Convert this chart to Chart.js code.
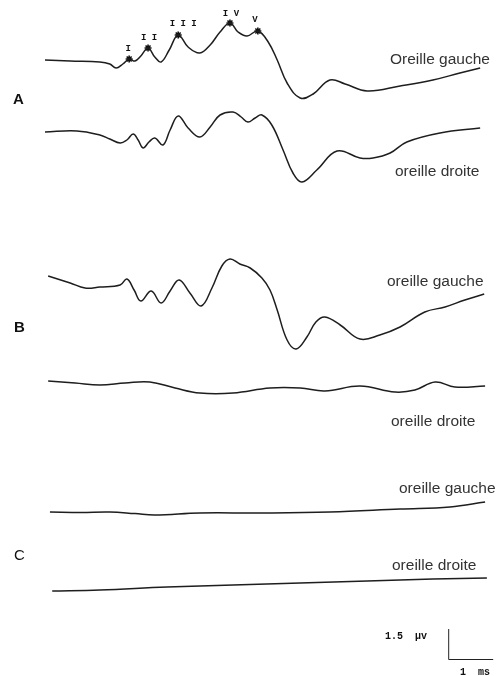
<!DOCTYPE html>
<html>
<head>
<meta charset="utf-8">
<script src="https://cdn.jsdelivr.net/npm/chart.js@4/dist/chart.umd.min.js"></script>
<style>
  html, body { margin: 0; background: #fff; }
  #wrap { position: relative; width: 502px; height: 676px; }
</style>
</head>
<body>
<div id="wrap"><canvas id="abr"></canvas></div>
<script>
// latency (ms) and amplitude (µV, relative to the trace start)
const timeA_left = [0, 0.56, 1.22, 1.44, 1.58, 1.73, 1.87, 2.0, 2.13, 2.29, 2.44, 2.58, 2.76, 2.96, 3.18, 3.44, 3.67, 3.89, 4.11, 4.29, 4.49, 4.73, 4.96, 5.16, 5.38, 5.67, 5.96, 6.33, 6.67, 7.16, 7.89, 8.62, 9.22, 9.67];
const ampA_left  = [0, -0.05, -0.1, -0.2, -0.4, -0.2, 0.05, -0.05, 0.2, 0.6, 0.15, -0.1, 0.5, 1.25, 0.65, 0.35, 0.75, 1.4, 1.85, 1.4, 1.2, 1.45, 0.9, 0, -1.15, -1.9, -1.7, -1.0, -1.2, -1.55, -1.3, -1.0, -0.65, -0.4];

const timeA_right = [0, 0.71, 1.22, 1.44, 1.67, 1.82, 1.96, 2.07, 2.18, 2.31, 2.44, 2.62, 2.78, 2.96, 3.18, 3.44, 3.67, 3.89, 4.18, 4.36, 4.51, 4.67, 4.82, 5.04, 5.29, 5.51, 5.71, 6.04, 6.49, 7.0, 7.29, 7.67, 8.04, 8.78, 9.67];
const ampA_right  = [0, 0.05, -0.15, -0.35, -0.55, -0.4, -0.1, -0.4, -0.8, -0.5, -0.3, -0.65, 0.1, 0.8, 0.2, -0.25, 0.25, 0.85, 1.0, 0.75, 0.5, 0.7, 0.85, 0.35, -0.9, -2.05, -2.5, -1.9, -0.95, -1.3, -1.3, -1.05, -0.5, -0.05, 0.2];

const timeB_left = [0.07, 0.56, 0.89, 1.22, 1.67, 1.82, 1.98, 2.13, 2.36, 2.58, 2.78, 2.98, 3.22, 3.47, 3.71, 3.93, 4.11, 4.33, 4.56, 4.82, 5.0, 5.16, 5.38, 5.58, 5.82, 6.02, 6.22, 6.56, 7.0, 7.44, 7.89, 8.44, 8.89, 9.33, 9.76];
const ampB_left  = [0.05, -0.3, -0.55, -0.5, -0.4, -0.1, -0.65, -1.2, -0.7, -1.3, -0.7, -0.15, -0.8, -1.45, -0.55, 0.55, 0.9, 0.65, 0.45, -0.05, -0.65, -1.65, -3.15, -3.6, -3.0, -2.25, -2.0, -2.4, -3.1, -2.9, -2.5, -1.75, -1.5, -1.15, -0.85];

const timeB_right = [0.07, 0.67, 1.22, 1.78, 2.33, 2.89, 3.44, 4.18, 5.0, 5.67, 6.22, 7.0, 7.78, 8.22, 8.67, 9.11, 9.78];
const ampB_right  = [0, -0.1, -0.2, -0.1, -0.05, -0.35, -0.6, -0.6, -0.35, -0.35, -0.5, -0.25, -0.55, -0.45, -0.05, -0.3, -0.25];

const timeC_left = [0.11, 0.8, 1.44, 2.0, 2.44, 3.44, 4.78, 6.33, 7.89, 9.0, 9.78];
const ampC_left  = [0, -0.02, 0, -0.08, -0.15, -0.05, -0.05, 0, 0.15, 0.25, 0.5];

const timeC_right = [0.16, 1.22, 2.71, 4.18, 5.67, 7.16, 8.62, 9.82];
const ampC_right  = [0, 0.05, 0.2, 0.3, 0.4, 0.5, 0.6, 0.65];

// waves I-V marked on trace A, left ear
const peakNames = ['I', 'II', 'III', 'IV', 'V'];
const peakTimes = [1.87, 2.29, 2.96, 4.11, 4.73];
const peakAmps  = [0.05, 0.6, 1.25, 1.85, 1.45];

// calibration bar
const barUV = 1.5;
const barMS = 1;

// vertical placement of each trace (µV below the top edge)
const offsets = [-3.0, -6.6, -13.85, -19.05, -25.6, -29.55];

const traces = [
  { t: timeA_left,  v: ampA_left,  name: 'Oreille gauche', lx: 390, ly: 60 },
  { t: timeA_right, v: ampA_right, name: 'oreille droite', lx: 395, ly: 172 },
  { t: timeB_left,  v: ampB_left,  name: 'oreille gauche', lx: 387, ly: 282 },
  { t: timeB_right, v: ampB_right, name: 'oreille droite', lx: 391, ly: 422 },
  { t: timeC_left,  v: ampC_left,  name: 'oreille gauche', lx: 399, ly: 489 },
  { t: timeC_right, v: ampC_right, name: 'oreille droite', lx: 392, ly: 566 }
];

const datasets = traces.map((tr, k) => ({
  data: tr.t.map((x, i) => ({ x, y: tr.v[i] + offsets[k] })),
  borderColor: '#1e1e1e',
  borderWidth: 1.5,
  pointRadius: 0,
  tension: 0.4,
  fill: false
}));

datasets.push({
  type: 'scatter',
  data: peakTimes.map((x, i) => ({ x, y: peakAmps[i] + offsets[0] })),
  pointStyle: 'star',
  pointRadius: 3.5,
  borderColor: '#111',
  borderWidth: 1.6,
  backgroundColor: '#111',
  showLine: false
});

const textPlugin = {
  id: 'abrText',
  afterDatasetsDraw(chart) {
    const { ctx, scales: { x, y } } = chart;
    ctx.save();
    ctx.fillStyle = '#333';
    ctx.textBaseline = 'middle';

    ctx.font = '15.5px "Liberation Sans", Arial, sans-serif';
    traces.forEach(tr => ctx.fillText(tr.name, tr.lx, tr.ly));

    ctx.fillStyle = '#111';
    ctx.font = 'bold 15px "Liberation Sans", Arial, sans-serif';
    ctx.fillText('A', 13, 100);
    ctx.fillText('B', 14, 328);
    ctx.font = '15px "Liberation Sans", Arial, sans-serif';
    ctx.fillText('C', 14, 556);

    // wave numbers above the markers
    ctx.font = 'bold 9px "Liberation Mono", "DejaVu Sans Mono", monospace';
    ctx.textAlign = 'center';
    const shift = [[-1, -10], [1, -10], [5, -11], [1, -9], [-3, -11]];
    peakNames.forEach((n, i) => {
      const px = x.getPixelForValue(peakTimes[i]) + shift[i][0];
      const py = y.getPixelForValue(peakAmps[i] + offsets[0]) + shift[i][1];
      ctx.fillText(n.split('').join(' '), px, py);
    });

    // calibration bar
    const x0 = x.getPixelForValue(8.96);
    const x1 = x.getPixelForValue(8.96 + barMS);
    const yb = y.getPixelForValue(-32.95);
    const yt = y.getPixelForValue(-32.95 + barUV);
    ctx.strokeStyle = '#222';
    ctx.lineWidth = 1;
    ctx.beginPath();
    ctx.moveTo(x0 + 0.5, yt);
    ctx.lineTo(x0 + 0.5, yb + 0.5);
    ctx.lineTo(x1, yb + 0.5);
    ctx.stroke();
    ctx.font = 'bold 10px "Liberation Mono", "DejaVu Sans Mono", monospace';
    ctx.textAlign = 'left';
    ctx.fillText(barUV + '  µv', 385, 636);
    ctx.fillText(barMS + '  ms', 460, 672);
    ctx.restore();
  }
};

new Chart(document.getElementById('abr'), {
  type: 'line',
  data: { datasets },
  options: {
    responsive: true,
    maintainAspectRatio: false,
    animation: false,
    layout: { padding: 0, autoPadding: false },
    plugins: { legend: { display: false }, tooltip: { enabled: false } },
    scales: {
      x: { type: 'linear', min: -1, max: 457 / 45, display: false },
      y: { type: 'linear', min: -33.8, max: 0, display: false }
    }
  },
  plugins: [textPlugin]
});
</script>
</body>
</html>
